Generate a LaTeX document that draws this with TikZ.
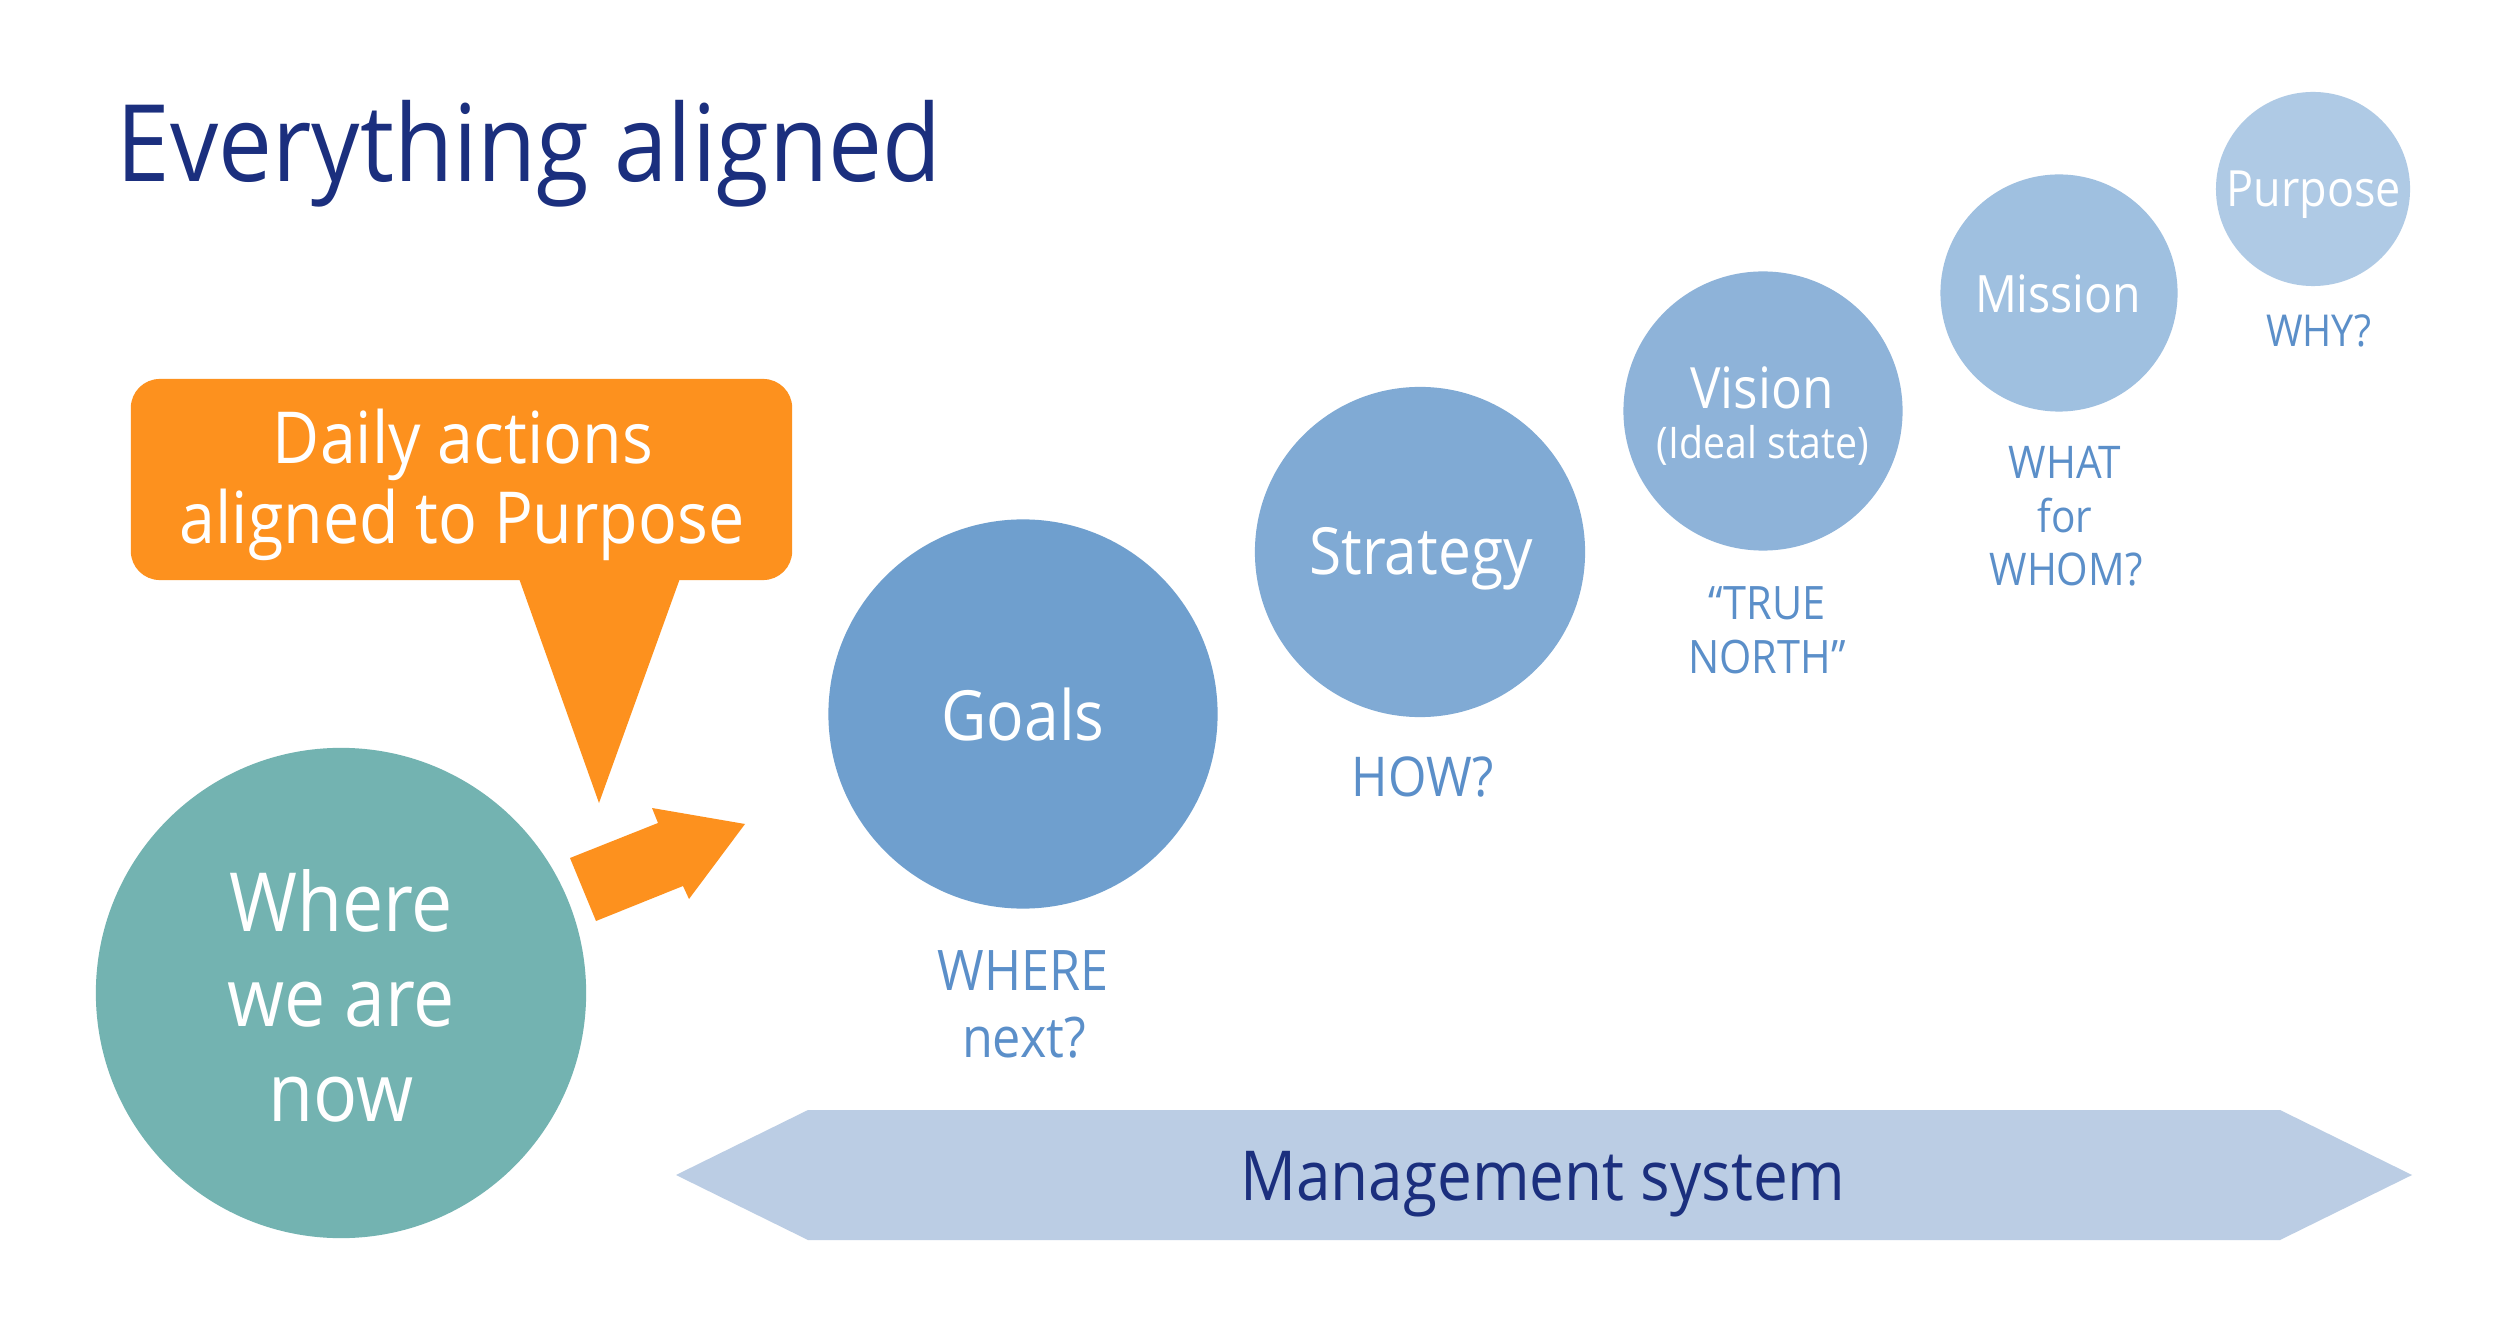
\documentclass[tikz,border=0pt]{standalone}
\usepackage{fontspec}
\setmainfont{Open Sans}[FakeStretch=0.9]
\definecolor{navy}{RGB}{27,47,126}
\definecolor{orng}{RGB}{253,145,30}
\definecolor{tealc}{RGB}{115,179,177}
\definecolor{goalc}{RGB}{111,159,206}
\definecolor{stratc}{RGB}{128,170,212}
\definecolor{visc}{RGB}{142,179,217}
\definecolor{misc}{RGB}{159,192,224}
\definecolor{purc}{RGB}{175,202,229}
\definecolor{lblc}{RGB}{91,143,201}
\definecolor{mgmtc}{RGB}{187,205,228}
\newcommand{\fsz}[1]{\fontsize{#1pt}{#1pt}\selectfont}
\begin{document}
\begin{tikzpicture}[x=0.01cm,y=-0.01cm,
  bub/.style={circle, inner sep=0pt, draw=none, minimum size=#1},
  txt/.style={inner sep=0pt, anchor=base},
  wtxt/.style={txt, text=white},
  ltxt/.style={txt, text=lblc}]
\useasboundingbox (0,0) rectangle (2500,1328);
\fill[white] (0,0) rectangle (2500,1328);

% title
\node[txt, anchor=base west, text=navy, font=\fsz{30.4}] (title) at (116,182) {Everything aligned};

% circles
\node[bub=4.9cm, fill=tealc] (now) at (341,993) {};
\node[bub=3.89cm, fill=goalc] (goals) at (1023,714) {};
\node[bub=3.3cm, fill=stratc] (strategy) at (1420,552) {};
\node[bub=2.79cm, fill=visc] (vision) at (1763,411) {};
\node[bub=2.37cm, fill=misc] (mission) at (2059,293) {};
\node[bub=1.94cm, fill=purc] (purpose) at (2313,189) {};

% circle texts
\node[wtxt, font=\fsz{23.2}] (now1) at (341,931) {Where};
\node[wtxt, font=\fsz{23.2}] (now2) at (341,1026) {we are};
\node[wtxt, font=\fsz{23.2}] (now3) at (341,1121) {now};
\node[wtxt, font=\fsz{19.7}] (goalst) at (1023,741) {Goals};
\node[wtxt, font=\fsz{18.5}] (stratt) at (1421,575) {Strategy};
\node[wtxt, font=\fsz{16.2}] (vist) at (1762,409) {Vision};
\node[wtxt, font=\fsz{12.4}] (ideal) at (1763,459) {(Ideal state)};
\node[wtxt, font=\fsz{14.65}] (mist) at (2058,313) {Mission};
\node[wtxt, font=\fsz{14.2}] (purt) at (2314,207) {Purpose};

% labels
\node[ltxt, font=\fsz{15.9}] (where1) at (1023,990) {WHERE};
\node[ltxt, font=\fsz{15.9}] (where2) at (1024,1057) {next?};
\node[ltxt, font=\fsz{15.6}] (how) at (1423,796) {HOW?};
\node[ltxt, font=\fsz{13.1}] (true1) at (1767,620) {“TRUE};
\node[ltxt, font=\fsz{13.1}] (true2) at (1767,673) {NORTH”};
\node[ltxt, font=\fsz{12.8}] (what1) at (2065,479) {WHAT};
\node[ltxt, font=\fsz{12.8}] (what2) at (2065,533) {for};
\node[ltxt, font=\fsz{12.8}] (what3) at (2066,586) {WHOM?};
\node[ltxt, font=\fsz{12.5}] (why) at (2319,347) {WHY?};

% callout
\node[fill=orng, rounded corners=0.29cm, minimum width=6.61cm, minimum height=2.01cm, inner sep=0pt] (callout) at (461.5,479.5) {};
\coordinate (ptl) at (516,570);
\coordinate (ptr) at (683,570);
\coordinate (ptip) at (599,803);
\fill[orng] (ptl) -- (ptip) -- (ptr) -- cycle;
\node[wtxt, font=\fsz{20.4}] (daily1) at (463,464) {Daily actions};
\node[wtxt, font=\fsz{20.4}] (daily2) at (462,544) {aligned to Purpose};

% orange arrow
\fill[orng] (570,858) -- (658,823) -- (652,808) -- (745,824) -- (689,899) -- (683,886) -- (596,921) -- cycle;

% management system
\fill[mgmtc] (676,1175) -- (808,1110) -- (2280,1110) -- (2412,1175) -- (2280,1240) -- (808,1240) -- cycle;
\node[txt, text=navy, font=\fsz{19.6}] (mgmt) at (1543,1200) {Management system};
\end{tikzpicture}
\end{document}
